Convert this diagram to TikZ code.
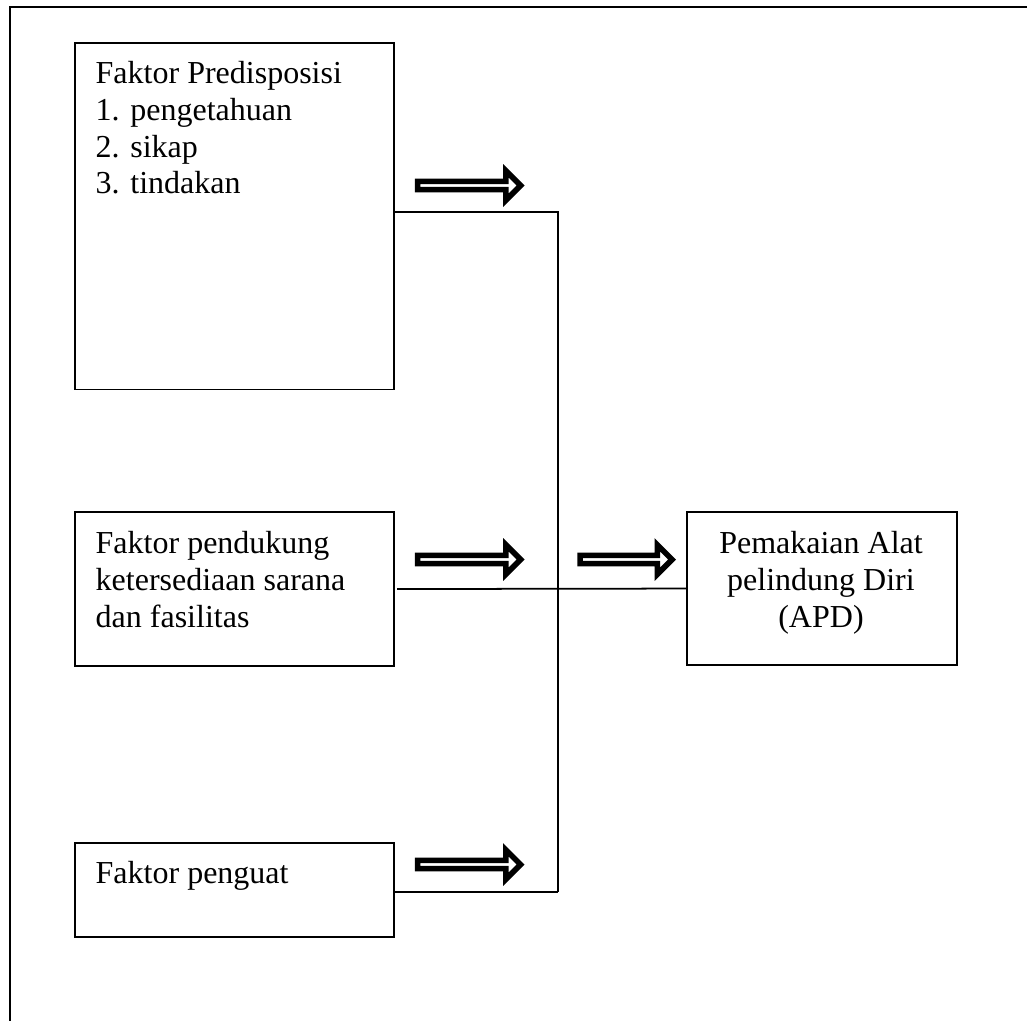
\documentclass[tikz,border=0pt]{standalone}
\usepackage{fontspec}
\setmainfont{Liberation Serif}
\usetikzlibrary{shapes.arrows, positioning}

\begin{document}
\begin{tikzpicture}[x=0.01cm, y=-0.01cm,
  kotak/.style={draw, line width=0.4pt, inner sep=0pt, outer sep=0pt, anchor=north west},
  teks/.style={inner sep=0pt, font=\fontsize{9.1}{10.4}\selectfont},
  panah/.style={single arrow, draw, line width=0.055cm, inner sep=0pt, minimum width=0.295cm, single arrow head extend=0.07cm},
  garis/.style={line width=0.5pt}]
\useasboundingbox (0,0) rectangle (1027,1021);
\draw [line width=0.4pt] (1027,7) -- (10,7) -- (10,1021);

\node [kotak, minimum width=3.19cm, minimum height=3.46cm] (pre) at (75,43) {};
\node [kotak, minimum width=3.19cm, minimum height=1.54cm] (dukung) at (75,512) {};
\node [kotak, minimum width=3.19cm, minimum height=0.94cm] (kuat) at (75,843) {};
\node [kotak, minimum width=2.70cm, minimum height=1.53cm] (apd) at (687,512) {};

\node [teks, align=left, anchor=north west] (tpre) at (95,61) {Faktor Predisposisi\\1. pengetahuan\\2. sikap\\3. tindakan};
\node [teks, align=left, anchor=north west] (tdukung) at (95,531) {Faktor pendukung\\ketersediaan sarana\\dan fasilitas};
\node [teks, align=left, anchor=north west] (tkuat) at (95,861) {Faktor penguat};
\node [teks, align=center, anchor=north] (tapd) at (821,531) {Pemakaian Alat\\pelindung Diri\\(APD)};

\node [panah, minimum height=1.03cm] (p1) at (467,185.5) {};
\node [panah, minimum height=1.03cm] (p2) at (467,559.5) {};
\node [panah, minimum height=0.92cm] (p3) at (624,559.5) {};
\node [panah, minimum height=1.03cm] (p4) at (467,864.5) {};

\coordinate (j1) at (558,212);
\coordinate (jm) at (558,728);
\coordinate (j3) at (558,892);
\draw [garis] (pre.east |- j1) -- (j1) -- (jm);
\draw [garis, line width=0.6pt] (jm) -- (j3);
\draw [garis] (kuat.east |- j3) -- (j3);
\draw [garis] ([xshift=0.03cm]dukung.east) -- (apd.west);
\end{tikzpicture}
\end{document}
